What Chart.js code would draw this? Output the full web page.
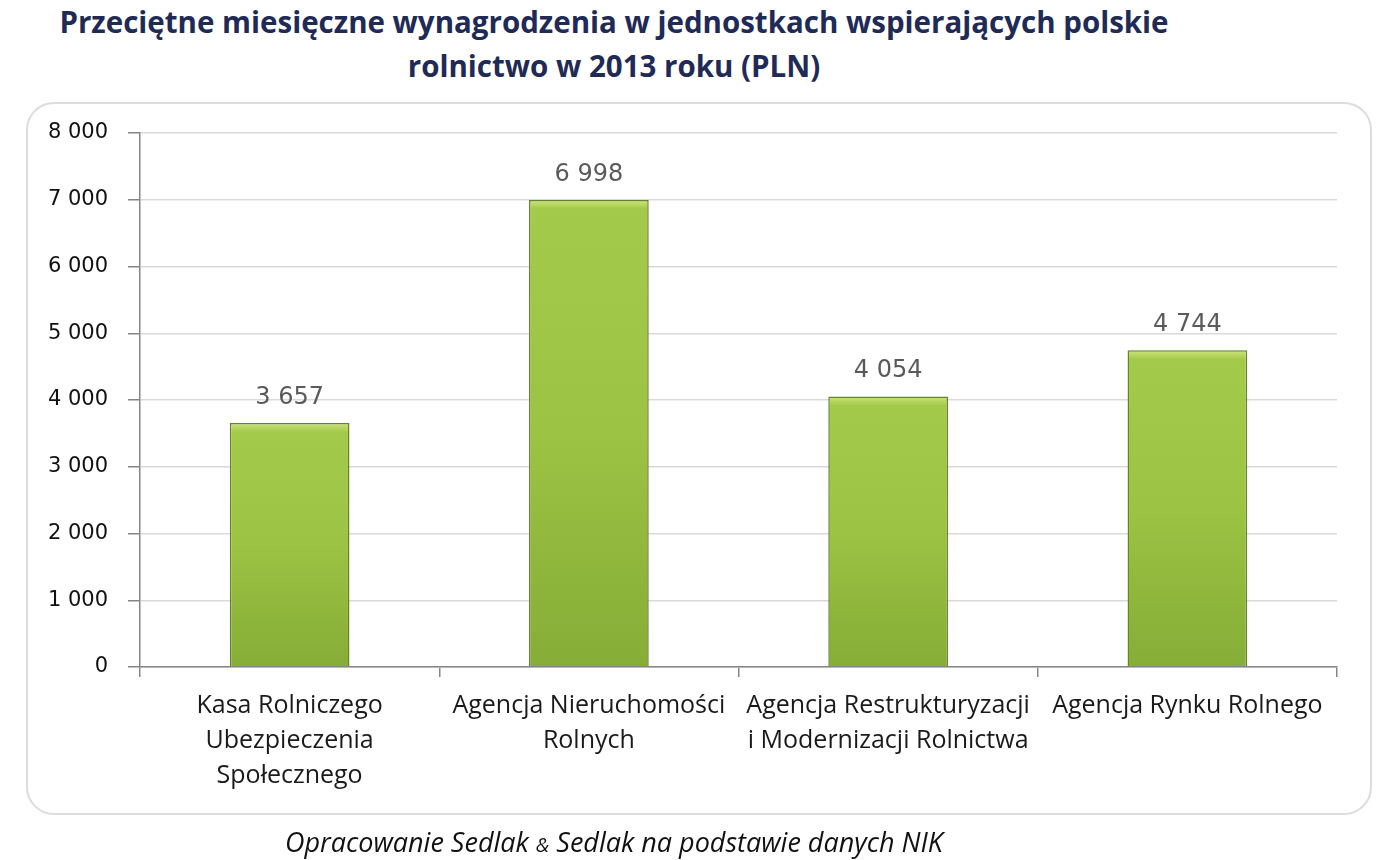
<!DOCTYPE html>
<html>
<head>
<meta charset="utf-8">
<script src="https://cdn.jsdelivr.net/npm/chart.js@4.4.1/dist/chart.umd.min.js"></script>
<style>
  html, body { margin: 0; padding: 0; background: #fff; }
  body { width: 1400px; height: 860px; position: relative; overflow: hidden; }
  #box {
    position: absolute; left: 26px; top: 102px; width: 1342px; height: 709px;
    border: 2px solid #dcdcdc; border-radius: 28px; box-sizing: content-box;
  }
  #title {
    position: absolute; left: 0; top: 0px; width: 1228px; text-align: center;
    font: bold 29.5px "Open Sans", sans-serif; line-height: 44px; color: #1f2a56;
  }
  #source {
    position: absolute; left: 0; top: 823px; width: 1228px; text-align: center;
    font: italic 27px "Open Sans", sans-serif; color: #111;
  }
  #source span { font-size: 20px; }
  canvas { position: absolute; left: 0; top: 0; }
</style>
</head>
<body>
<div id="box"></div>
<div id="title">Przeciętne miesięczne wynagrodzenia w jednostkach wspierających polskie<br>rolnictwo w 2013 roku (PLN)</div>
<canvas id="chart" width="1400" height="860"></canvas>
<div id="source">Opracowanie Sedlak <span>&amp;</span> Sedlak na podstawie danych NIK</div>
<script>
// dane z wykresu
const categories = [
  ["Kasa Rolniczego", "Ubezpieczenia", "Społecznego"],
  ["Agencja Nieruchomości", "Rolnych"],
  ["Agencja Restrukturyzacji", "i Modernizacji Rolnictwa"],
  ["Agencja Rynku Rolnego"],
];
const salaries = [3657, 6998, 4054, 4744];
const yTicks = [0, 1000, 2000, 3000, 4000, 5000, 6000, 7000, 8000];

const fmt = (v) => String(v).replace(/\B(?=(\d{3})+(?!\d))/g, " ");

// gradient dla kazdego slupka osobno
function barFill(context) {
  const chart = context.chart;
  if (!chart.chartArea) return "#9bc34a";
  const y = chart.scales.y;
  const top = y.getPixelForValue(context.raw);
  const bot = y.getPixelForValue(0);
  const g = chart.ctx.createLinearGradient(0, top, 0, bot);
  const f = Math.min(0.5, 9 / Math.max(1, bot - top));
  g.addColorStop(0, "#cfe47c");
  g.addColorStop(f, "#a3ca4a");
  g.addColorStop(0.5, "#9cc343");
  g.addColorStop(1, "#86ad36");
  return g;
}

const valueLabels = {
  id: "valueLabels",
  afterDatasetsDraw(chart) {
    const ctx = chart.ctx;
    const meta = chart.getDatasetMeta(0);
    ctx.save();
    ctx.font = '24px "DejaVu Sans", sans-serif';
    ctx.fillStyle = "#5a5a5a";
    ctx.textAlign = "center";
    ctx.textBaseline = "alphabetic";
    meta.data.forEach((bar, i) => {
      ctx.fillText(fmt(chart.data.datasets[0].data[i]), bar.x, bar.y - 19);
    });
    ctx.restore();
  },
};

new Chart(document.getElementById("chart"), {
  type: "bar",
  data: {
    labels: categories,
    datasets: [{
      data: salaries,
      backgroundColor: barFill,
      borderColor: "#64842a",
      borderWidth: 1.5,
      categoryPercentage: 1,
      barPercentage: 0.4,
    }],
  },
  options: {
    responsive: false,
    animation: false,
    layout: { padding: { top: 133, right: 63, left: 0, bottom: 43 } },
    plugins: {
      legend: { display: false },
      tooltip: { enabled: false },
    },
    scales: {
      x: {
        offset: true,
        afterFit: (s) => { s.height = 150; },
        grid: {
          offset: true,
          drawOnChartArea: false,
          tickLength: 10,
          tickColor: "#868686",
          lineWidth: 1.5,
        },
        border: { color: "#868686", width: 1.5 },
        ticks: {
          autoSkip: false,
          maxRotation: 0,
          padding: 11,
          color: "#1a1a1a",
          font: { family: "Open Sans", size: 25, lineHeight: 1.4 },
        },
      },
      y: {
        min: 0,
        max: 8000,
        afterFit: (s) => { s.width = 140; },
        afterBuildTicks: (s) => { s.ticks = yTicks.map((v) => ({ value: v })); },
        grid: {
          color: "#d9d9d9",
          tickColor: "#868686",
          tickLength: 12,
          lineWidth: 1.5,
        },
        border: { color: "#868686", width: 1.5 },
        ticks: {
          padding: 20,
          color: "#111",
          font: { family: "DejaVu Sans", size: 21 },
          callback: (v) => fmt(v),
        },
      },
    },
  },
  plugins: [valueLabels],
});
</script>
</body>
</html>
